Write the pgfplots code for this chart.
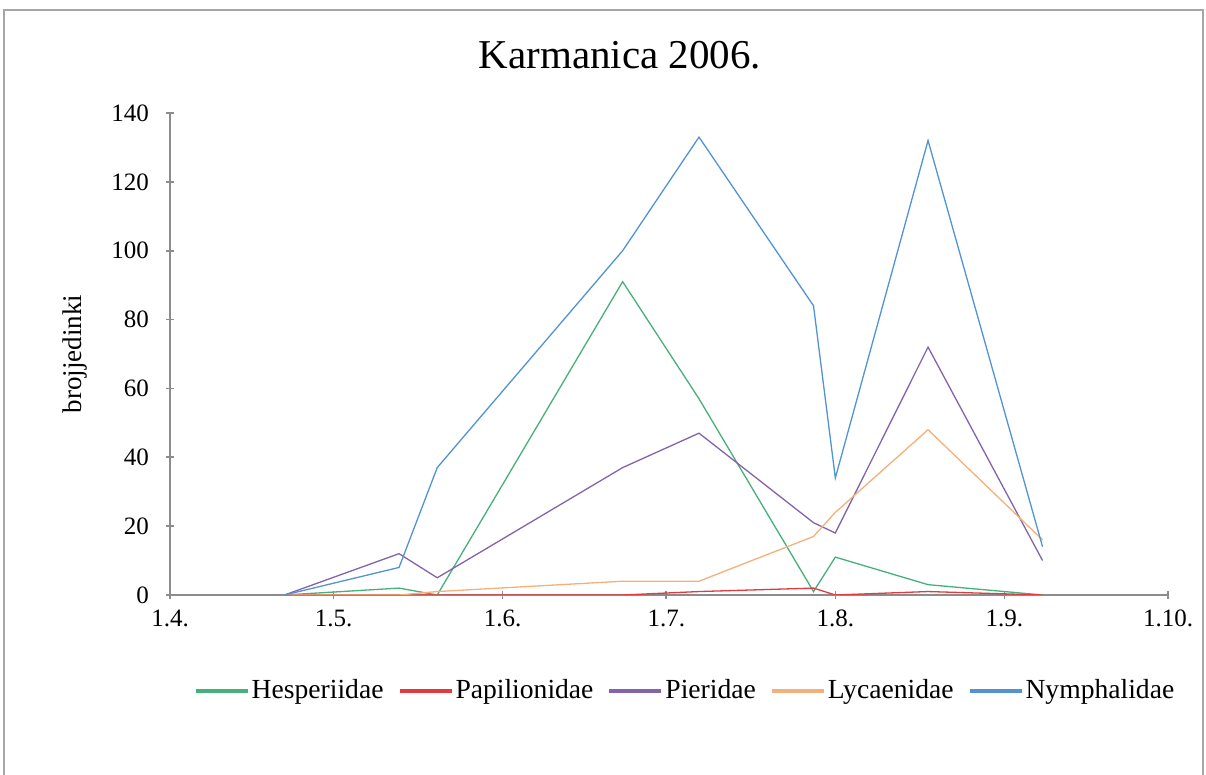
\documentclass[border=0pt]{standalone}
\usepackage{fontspec}
\setmainfont{Liberation Serif}
\usepackage{pgfplots}
\pgfplotsset{compat=1.18}
\definecolor{cHes}{HTML}{45B07A}
\definecolor{cPap}{HTML}{E23A3F}
\definecolor{cPie}{HTML}{8363AA}
\definecolor{cLyc}{HTML}{F4B07A}
\definecolor{cNym}{HTML}{5293D4}
\definecolor{axisgray}{HTML}{8C8C8C}
\definecolor{framegray}{HTML}{A6A6A6}
\begin{document}
\begin{tikzpicture}
\useasboundingbox (0pt,0pt) rectangle (603pt,387.5pt);
\draw[color=framegray, line width=1.3pt] (2pt,-20pt) rectangle (601.5pt,382.5pt);
\node[font=\fontsize{20.5}{24}\selectfont] at (310pt,360pt) {Karmanica 2006.};
\node[rotate=90, font=\fontsize{13.5}{16}\selectfont] at (37.5pt,210.5pt) {brojjedinki};
\begin{axis}[
  at={(85pt,90pt)}, anchor=south west, scale only axis,
  width=499pt, height=241pt,
  xmin=0, xmax=183, ymin=0, ymax=140,
  axis x line*=bottom, axis y line*=left,
  axis line style={color=axisgray, line width=0.8pt},
  xtick={0,30,61,91,122,153,183},
  xticklabels={1.4.,1.5.,1.6.,1.7.,1.8.,1.9.,1.10.},
  ytick={0,20,40,60,80,100,120,140},
  tick align=center, major tick length=4pt,
  tick style={color=axisgray, line width=0.8pt},
  ticklabel style={font=\fontsize{12.5}{14}\selectfont},
  xticklabel style={yshift=-2pt},
  yticklabel style={xshift=-5pt},
  /pgf/number format/assume math mode=true,
  legend columns=5,
  legend style={draw=none, fill=none, at={(rel axis cs:0.516,-0.199)}, anchor=center,
    font=\fontsize{13.8}{16}\selectfont, nodes={inner sep=1pt},
    /tikz/every even column/.append style={column sep=6pt}},
  legend image code/.code={\draw[line width=2pt] (0pt,0pt) -- (26pt,0pt);},
  every axis plot/.append style={line width=0.65pt, mark=none},
]
\addplot[cHes] coordinates {(21,0) (42,2) (49,0) (83,91) (97,57) (118,1) (122,11) (139,3) (160,0)};
\addlegendentry{Hesperiidae}
\addplot[cPap] coordinates {(21,0) (42,0) (49,0) (83,0) (97,1) (118,2) (122,0) (139,1) (160,0)};
\addlegendentry{Papilionidae}
\addplot[cPie] coordinates {(21,0) (42,12) (49,5) (83,37) (97,47) (118,21) (122,18) (139,72) (160,10)};
\addlegendentry{Pieridae}
\addplot[cLyc] coordinates {(21,0) (42,0) (49,1) (83,4) (97,4) (118,17) (122,24) (139,48) (160,16)};
\addlegendentry{Lycaenidae}
\addplot[cNym] coordinates {(21,0) (42,8) (49,37) (83,100) (97,133) (118,84) (122,34) (139,132) (160,14)};
\addlegendentry{Nymphalidae}
\end{axis}
\end{tikzpicture}
\end{document}
